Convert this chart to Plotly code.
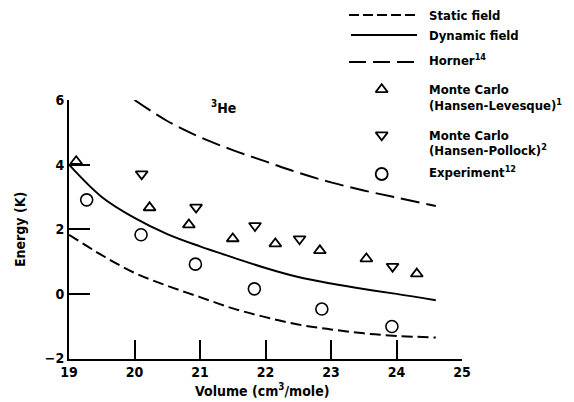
import plotly.graph_objects as go

# ---- data ----
vol_curve = [19.0, 19.5, 20.0, 20.5, 21.0, 21.5, 22.0, 22.5, 23.0, 23.5, 24.0, 24.6]
static_field = [1.83, 1.2, 0.65, 0.25, -0.1, -0.45, -0.72, -0.95, -1.1, -1.22, -1.3, -1.35]
dynamic_field = [4.0, 3.0, 2.35, 1.85, 1.47, 1.13, 0.8, 0.52, 0.32, 0.15, 0.0, -0.2]

vol_horner = [20.0, 20.5, 21.0, 21.5, 22.0, 22.5, 23.0, 23.5, 24.0, 24.6]
horner = [6.0, 5.35, 4.85, 4.45, 4.1, 3.75, 3.45, 3.2, 2.98, 2.72]

vol_hl = [19.11, 20.23, 20.83, 21.50, 22.15, 22.83, 23.54, 24.31]
e_hl = [4.10, 2.67, 2.14, 1.71, 1.55, 1.34, 1.09, 0.62]

vol_hp = [20.11, 20.94, 21.84, 22.52, 23.94]
e_hp = [3.71, 2.68, 2.11, 1.70, 0.85]

vol_exp = [19.27, 20.10, 20.93, 21.83, 22.86, 23.93]
e_exp = [2.91, 1.83, 0.92, 0.155, -0.47, -1.01]

x_ticks = [19, 20, 21, 22, 23, 24, 25]
y_ticks = [-2, 0, 2, 4, 6]

FONT = "DejaVu Sans Condensed, DejaVu Sans, sans-serif"
W, H = 574, 402
L, R, T, B = 69, 462, 100, 358.5

fig = go.Figure()

fig.add_trace(go.Scatter(x=vol_curve, y=static_field, mode="lines", line_shape="spline",
                         line=dict(color="black", width=2, dash="11px,5px"), name="Static field"))
fig.add_trace(go.Scatter(x=vol_curve, y=dynamic_field, mode="lines", line_shape="spline",
                         line=dict(color="black", width=2), name="Dynamic field"))
fig.add_trace(go.Scatter(x=vol_horner, y=horner, mode="lines", line_shape="spline",
                         line=dict(color="black", width=2, dash="19px,7px"), name="Horner"))
fig.add_trace(go.Scatter(x=vol_hl, y=e_hl, mode="markers",
                         marker=dict(symbol="triangle-up-open", size=10.5, color="black", line=dict(width=1.8))))
fig.add_trace(go.Scatter(x=vol_hp, y=e_hp, mode="markers",
                         marker=dict(symbol="triangle-down-open", size=10.5, color="black", line=dict(width=1.8))))
fig.add_trace(go.Scatter(x=vol_exp, y=e_exp, mode="markers",
                         marker=dict(symbol="circle-open", size=12, color="black", line=dict(width=1.6))))

# legend markers on an overlay pixel-space axis
leg_sym = ["triangle-up-open", "triangle-down-open", "circle-open"]
leg_sz = [10.5, 10.5, 12]
leg_y = [89.5, 135, 174]
for s, sz, yy in zip(leg_sym, leg_sz, leg_y):
    fig.add_trace(go.Scatter(x=[381.7], y=[yy], mode="markers", xaxis="x2", yaxis="y2",
                             marker=dict(symbol=s, size=sz, color="black", line=dict(width=1.8))))

shapes = []
shapes.append(dict(type="line", xref="x2", yref="y2", x0=349, x1=417, y0=15, y1=15,
                   line=dict(color="black", width=2, dash="10px,4px")))
shapes.append(dict(type="line", xref="x2", yref="y2", x0=351, x1=417, y0=35, y1=35,
                   line=dict(color="black", width=2)))
shapes.append(dict(type="line", xref="x2", yref="y2", x0=349, x1=417, y0=62, y1=62,
                   line=dict(color="black", width=2, dash="17px,7px")))

ann = []
def txt(x, y, s, size=13, **kw):
    ann.append(dict(xref="x2", yref="y2", x=x, y=y, text=s, showarrow=False,
                    xanchor=kw.get("xanchor", "left"), yanchor="middle",
                    font=dict(family=FONT, size=size, color="black", weight=600),
                    textangle=kw.get("angle", 0)))

txt(427, 15, "Static field")
txt(427, 35, "Dynamic field")
txt(427, 60, "Horner<sup>14</sup>")
txt(427, 89, "Monte Carlo")
txt(427, 105, "(Hansen-Levesque)<sup>1</sup>")
txt(427, 135, "Monte Carlo")
txt(427, 150, "(Hansen-Pollock)<sup>2</sup>")
txt(427, 172, "Experiment<sup>12</sup>")
txt(262, 390, "Volume (cm<sup>3</sup>/mole)", size=14, xanchor="center")
txt(20, 230, "Energy (K)", size=14, xanchor="center", angle=-90)
txt(209, 107, "<sup>3</sup>He", size=14)

fig.update_layout(
    width=W, height=H,
    margin=dict(l=0, r=0, t=0, b=0),
    paper_bgcolor="white", plot_bgcolor="rgba(0,0,0,0)",
    showlegend=False,
    font=dict(family=FONT, size=14, color="black"),
    shapes=shapes, annotations=ann,
    xaxis=dict(domain=[L / W, R / W], range=[19, 25], tickvals=x_ticks,
               ticks="inside", ticklen=19, tickwidth=1.8, tickcolor="black",
               showline=True, linecolor="black", linewidth=2, showgrid=False,
               zeroline=False, anchor="y", automargin=False,
               tickfont=dict(size=14, weight=600)),
    yaxis=dict(domain=[1 - B / H, 1 - T / H], range=[-2, 6], tickvals=y_ticks,
               ticks="inside", ticklen=21, tickwidth=1.8, tickcolor="black",
               showline=True, linecolor="black", linewidth=2, showgrid=False,
               zeroline=False, anchor="x", automargin=False,
               tickfont=dict(size=14, weight=600)),
    xaxis2=dict(domain=[0, 1], range=[0, W], visible=False, anchor="y2", automargin=False),
    yaxis2=dict(domain=[0, 1], range=[H, 0], visible=False, anchor="x2", automargin=False),
)

fig.write_html("out.html")
